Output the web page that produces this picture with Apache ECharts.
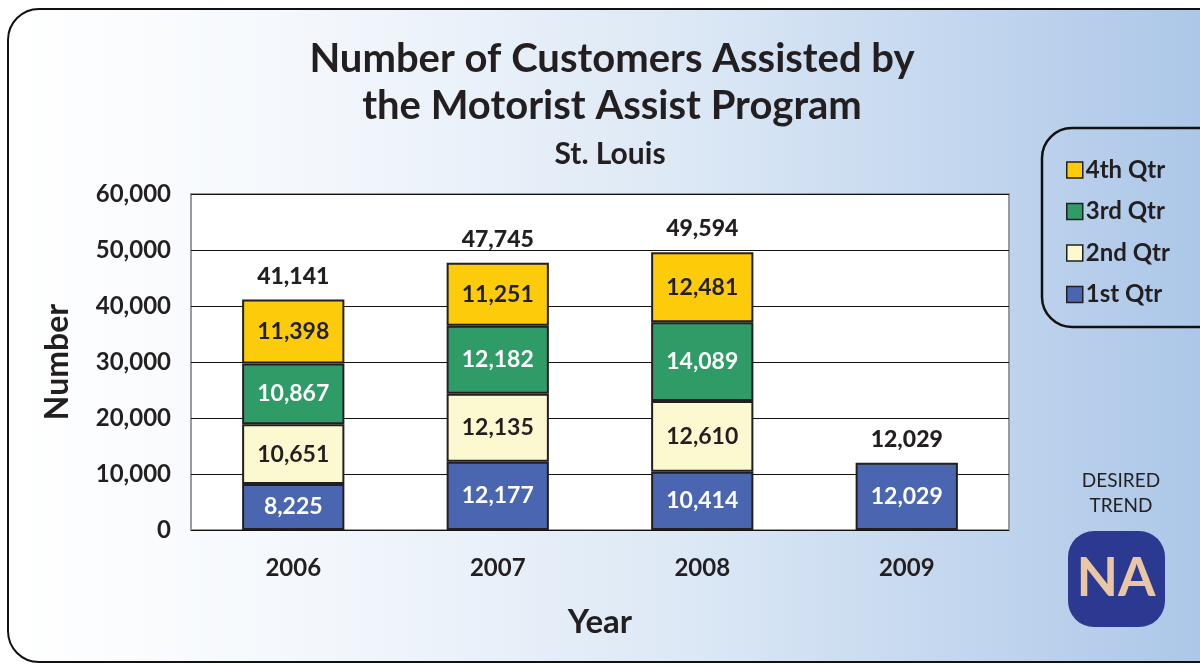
<!DOCTYPE html>
<html>
<head>
<meta charset="utf-8">
<script src="https://cdn.jsdelivr.net/npm/echarts@6/dist/echarts.min.js"></script>
<style>
  html, body { margin: 0; padding: 0; width: 1200px; height: 666px; overflow: hidden; background: #fff; }
  .panel {
    position: absolute; left: 7px; top: 8px; width: 1240px; height: 651px;
    border: 2.5px solid #111; border-radius: 32px;
    background: linear-gradient(to right, #ffffff 0%, #f3f7fc 25%, #dce8f5 55%, #a8c4e7 100%);
  }
  #chart { position: absolute; left: 0; top: 0; width: 1200px; height: 666px; }
</style>
</head>
<body>
<div class="panel"></div>
<div id="chart"></div>
<script>
// data
const years = ["2006", "2007", "2008", "2009"];
const qtr1 = [8225, 12177, 10414, 12029];
const qtr2 = [10651, 12135, 12610, null];
const qtr3 = [10867, 12182, 14089, null];
const qtr4 = [11398, 11251, 12481, null];
const totals = [41141, 47745, 49594, 12029];
const yTicks = { min: 0, max: 60000, interval: 10000 };

const FONT = "Lato";
const INK = "#231f20";
const fmt = (v) => Number(v).toLocaleString("en-US");

const myChart = echarts.init(document.getElementById("chart"));

function quarter(name, data, color, labelColor) {
  return {
    name: name,
    type: "bar",
    stack: "total",
    barWidth: "50%",
    data: data,
    itemStyle: { color: color, borderColor: INK, borderWidth: 2 },
    label: {
      show: true,
      position: "inside",
      formatter: (p) => fmt(p.value),
      color: labelColor,
      fontFamily: FONT,
      fontWeight: "bold",
      fontSize: 23,
    },
  };
}

let option = {
  animation: false,
  title: [
    {
      text: "Number of Customers Assisted by\nthe Motorist Assist Program",
      left: 607,
      top: 31,
      textAlign: "center",
      textStyle: { fontFamily: FONT, fontWeight: "bold", fontSize: 40, lineHeight: 47, color: INK },
    },
    {
      text: "St. Louis",
      left: 605,
      top: 134,
      textAlign: "center",
      textStyle: { fontFamily: FONT, fontWeight: "bold", fontSize: 30, color: INK },
    },
  ],
  legend: {
    orient: "vertical",
    left: 1061,
    top: 153,
    data: ["4th Qtr", "3rd Qtr", "2nd Qtr", "1st Qtr"],
    itemWidth: 16,
    itemHeight: 16,
    itemGap: 17.5,
    icon: "rect",
    itemStyle: { borderColor: INK, borderWidth: 1.5 },
    textStyle: { fontFamily: FONT, fontWeight: "bold", fontSize: 24, color: INK, padding: [0, 0, 0, -2] },
  },
  grid: {
    left: 191,
    top: 194,
    width: 818,
    height: 336,
    show: true,
    backgroundColor: "#ffffff",
    borderColor: "#9a9a9a",
    borderWidth: 2,
  },
  xAxis: {
    type: "category",
    data: years,
    axisLine: { show: false },
    axisTick: { show: false },
    axisLabel: { margin: 26, fontFamily: FONT, fontWeight: "bold", fontSize: 24, color: INK },
    name: "Year",
    nameLocation: "middle",
    nameGap: 76,
    nameTextStyle: { fontFamily: FONT, fontWeight: "bold", fontSize: 33, color: INK },
  },
  yAxis: {
    type: "value",
    min: yTicks.min,
    max: yTicks.max,
    interval: yTicks.interval,
    axisLine: { show: false },
    axisTick: { show: false },
    splitLine: { lineStyle: { color: "#111", width: 1.2 } },
    axisLabel: { margin: 20, formatter: fmt, fontFamily: FONT, fontWeight: "bold", fontSize: 24, color: INK },
    name: "Number",
    nameLocation: "middle",
    nameGap: 117,
    nameTextStyle: { fontFamily: FONT, fontWeight: "bold", fontSize: 32, color: INK },
  },
  series: [
    quarter("1st Qtr", qtr1, "#4a66b0", "#ffffff"),
    quarter("2nd Qtr", qtr2, "#fcf8d0", INK),
    quarter("3rd Qtr", qtr3, "#2f9c68", "#ffffff"),
    quarter("4th Qtr", qtr4, "#fccb0a", INK),
    {
      name: "Total",
      type: "scatter",
      data: totals,
      symbolSize: 0,
      silent: true,
      itemStyle: { opacity: 1, color: INK },
      label: {
        show: true,
        position: "top",
        distance: 12,
        formatter: (p) => fmt(p.value),
        fontFamily: FONT,
        fontWeight: 900,
        fontSize: 23,
        color: INK,
      },
    },
  ],
  graphic: [
    {
      type: "rect",
      shape: { x: 1042, y: 128, width: 200, height: 199, r: 30 },
      style: { fill: "rgba(0,0,0,0)", stroke: "#111", lineWidth: 2.5 },
    },
    {
      type: "text",
      x: 1121,
      y: 468,
      style: {
        text: "DESIRED\nTREND",
        fill: INK,
        font: "19px Lato",
        lineHeight: 25,
        align: "center",
      },
    },
    {
      type: "rect",
      shape: { x: 1068, y: 531, width: 97, height: 96, r: 26 },
      style: { fill: "#2b3990" },
    },
    {
      type: "text",
      x: 1116,
      y: 579,
      style: {
        text: "NA",
        fill: "#e9c6a4",
        font: "bold 54px Lato",
        align: "center",
        verticalAlign: "middle",
      },
    },
  ],
};

myChart.setOption(option);
</script>
</body>
</html>
